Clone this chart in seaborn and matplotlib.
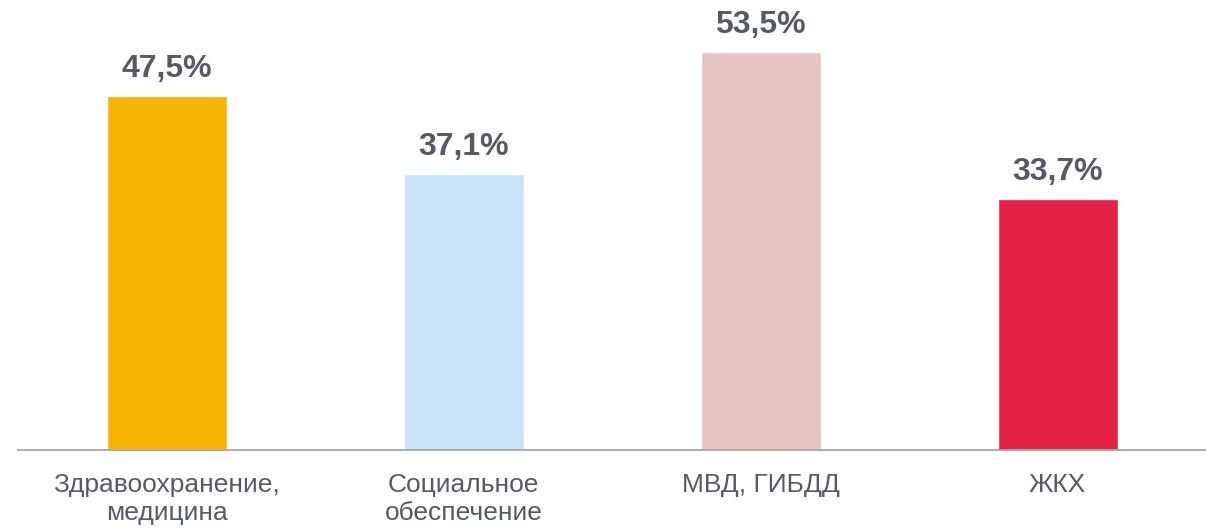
import matplotlib
matplotlib.use("Agg")
import matplotlib.pyplot as plt
import pandas as pd
import seaborn as sns

categories = ["Здравоохранение,\nмедицина", "Социальное\nобеспечение", "МВД, ГИБДД", "ЖКХ"]
values = [47.5, 37.1, 53.5, 33.7]
colors = ["#F7B500", "#C9E3F7", "#E8C4C4", "#E52245"]

TEXT = "#545B66"

sns.set_theme(style="white")
plt.rcParams["font.family"] = ["Liberation Sans", "DejaVu Sans"]

df = pd.DataFrame({"cat": categories, "val": values})

fig = plt.figure(figsize=(12.06, 5.29), dpi=100)
ax = fig.add_axes([0.015, 0.149, 0.985, 0.845])
sns.barplot(data=df, x="cat", y="val", hue="cat", palette=colors,
            legend=False, width=0.404, saturation=1, ax=ax)

for i, v in enumerate(values):
    label = f"{v:.1f}%".replace(".", ",")
    ax.annotate(label, (i, v), xytext=(0, 19), textcoords="offset pixels",
                ha="center", va="baseline", fontsize=23, fontweight="bold",
                color=TEXT, annotation_clip=False)

ax.set_xlim(-0.5, 3.5)
ax.set_ylim(0, 60)
ax.set_xlabel("")
ax.set_ylabel("")
ax.set_yticks([])
ax.tick_params(axis="x", length=0, pad=16.5, labelsize=19, labelcolor=TEXT)
for lbl in ax.get_xticklabels():
    lbl.set_linespacing(1.2)
for side in ["top", "left", "right"]:
    ax.spines[side].set_visible(False)
ax.spines["bottom"].set_color("#A6A6A6")
ax.spines["bottom"].set_linewidth(1.3)

fig.savefig("out.png", dpi=100)
